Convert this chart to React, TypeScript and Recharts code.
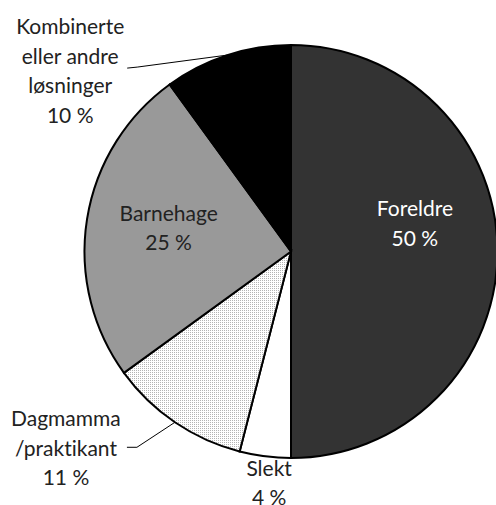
import React from 'react';
import { PieChart, Pie, Cell } from 'recharts';

const categories = ['Foreldre', 'Slekt', 'Dagmamma/praktikant', 'Barnehage', 'Kombinerte eller andre løsninger'];
const shares = [50, 4, 11, 25, 10];
const labelText = [
  ['Foreldre', '50 %'],
  ['Slekt', '4 %'],
  ['Dagmamma', '/praktikant', '11 %'],
  ['Barnehage', '25 %'],
  ['Kombinerte', 'eller andre', 'løsninger', '10 %'],
];

const fills = ['#333333', '#ffffff', 'url(#dots)', '#999999', '#000000'];
const textColors = ['#ffffff', '#222', '#222', '#222', '#222'];

// how each label sits relative to the slice edge (outside ones) or centre (inside ones)
const labelStyle: any[] = [
  { kind: 'inside', dy: -29 },
  { kind: 'below', dx: 4, dy: 11 },
  { kind: 'leader', knee: [-38, 25], end: [-48, 25], text: [-109, 25] },
  { kind: 'inside', dy: -5 },
  { kind: 'leader', knee: [-90, 12], end: [-100, 13], text: [-157, 15] },
];

const data = categories.map((name, i) => ({ name, value: shares[i] }));

const FONT = 'Lato, sans-serif';
const LINE_H = 29.5;
const RAD = Math.PI / 180;

const renderLabel = (props: any) => {
  const { cx, cy, midAngle, outerRadius, index } = props;
  const lines = labelText[index];
  const st = labelStyle[index];
  const cos = Math.cos(-midAngle * RAD);
  const sin = Math.sin(-midAngle * RAD);
  const textLines = (x: number, y: number) =>
    lines.map((l, i) => (
      <text
        key={i}
        x={x}
        y={y + (i - (lines.length - 1) / 2) * LINE_H}
        textAnchor="middle"
        dominantBaseline="central"
        fontFamily={FONT}
        fontSize={21}
        fill={textColors[index]}
        style={{ fontVariantLigatures: 'none' }}
      >
        {l}
      </text>
    ));

  if (st.kind === 'inside') {
    const r = outerRadius * 0.6;
    return <g>{textLines(cx + r * cos, cy + r * sin + st.dy)}</g>;
  }
  const ex = cx + outerRadius * cos;
  const ey = cy + outerRadius * sin;
  if (st.kind === 'below') {
    return <g>{textLines(ex + st.dx, ey + st.dy + ((lines.length - 1) / 2) * LINE_H)}</g>;
  }
  return (
    <g>
      <polyline
        points={`${ex},${ey} ${ex + st.knee[0]},${ey + st.knee[1]} ${ex + st.end[0]},${ey + st.end[1]}`}
        fill="none"
        stroke="#000"
        strokeWidth={1}
      />
      {textLines(ex + st.text[0], ey + st.text[1])}
    </g>
  );
};

export default function App() {
  return (
    <div style={{ position: 'absolute', left: 0, top: 0, width: 496, height: 505, overflow: 'hidden', background: '#fff' }}>
      <svg width={0} height={0} style={{ position: 'absolute' }}>
        <defs>
          <pattern id="dots" width={2} height={2} patternUnits="userSpaceOnUse">
            <rect width={2} height={2} fill="#ffffff" />
            <rect width={1} height={1} fill="#b4b4b4" />
          </pattern>
        </defs>
      </svg>
      <PieChart width={496} height={505} margin={{ top: 0, right: 0, bottom: 0, left: 0 }}>
        <Pie
          data={data}
          dataKey="value"
          nameKey="name"
          cx={291}
          cy={251.5}
          outerRadius={206.5}
          startAngle={90}
          endAngle={-270}
          stroke="#000"
          strokeWidth={2}
          labelLine={false}
          label={renderLabel}
          isAnimationActive={false}
        >
          {data.map((d, i) => (
            <Cell key={d.name} fill={fills[i]} />
          ))}
        </Pie>
      </PieChart>
    </div>
  );
}
